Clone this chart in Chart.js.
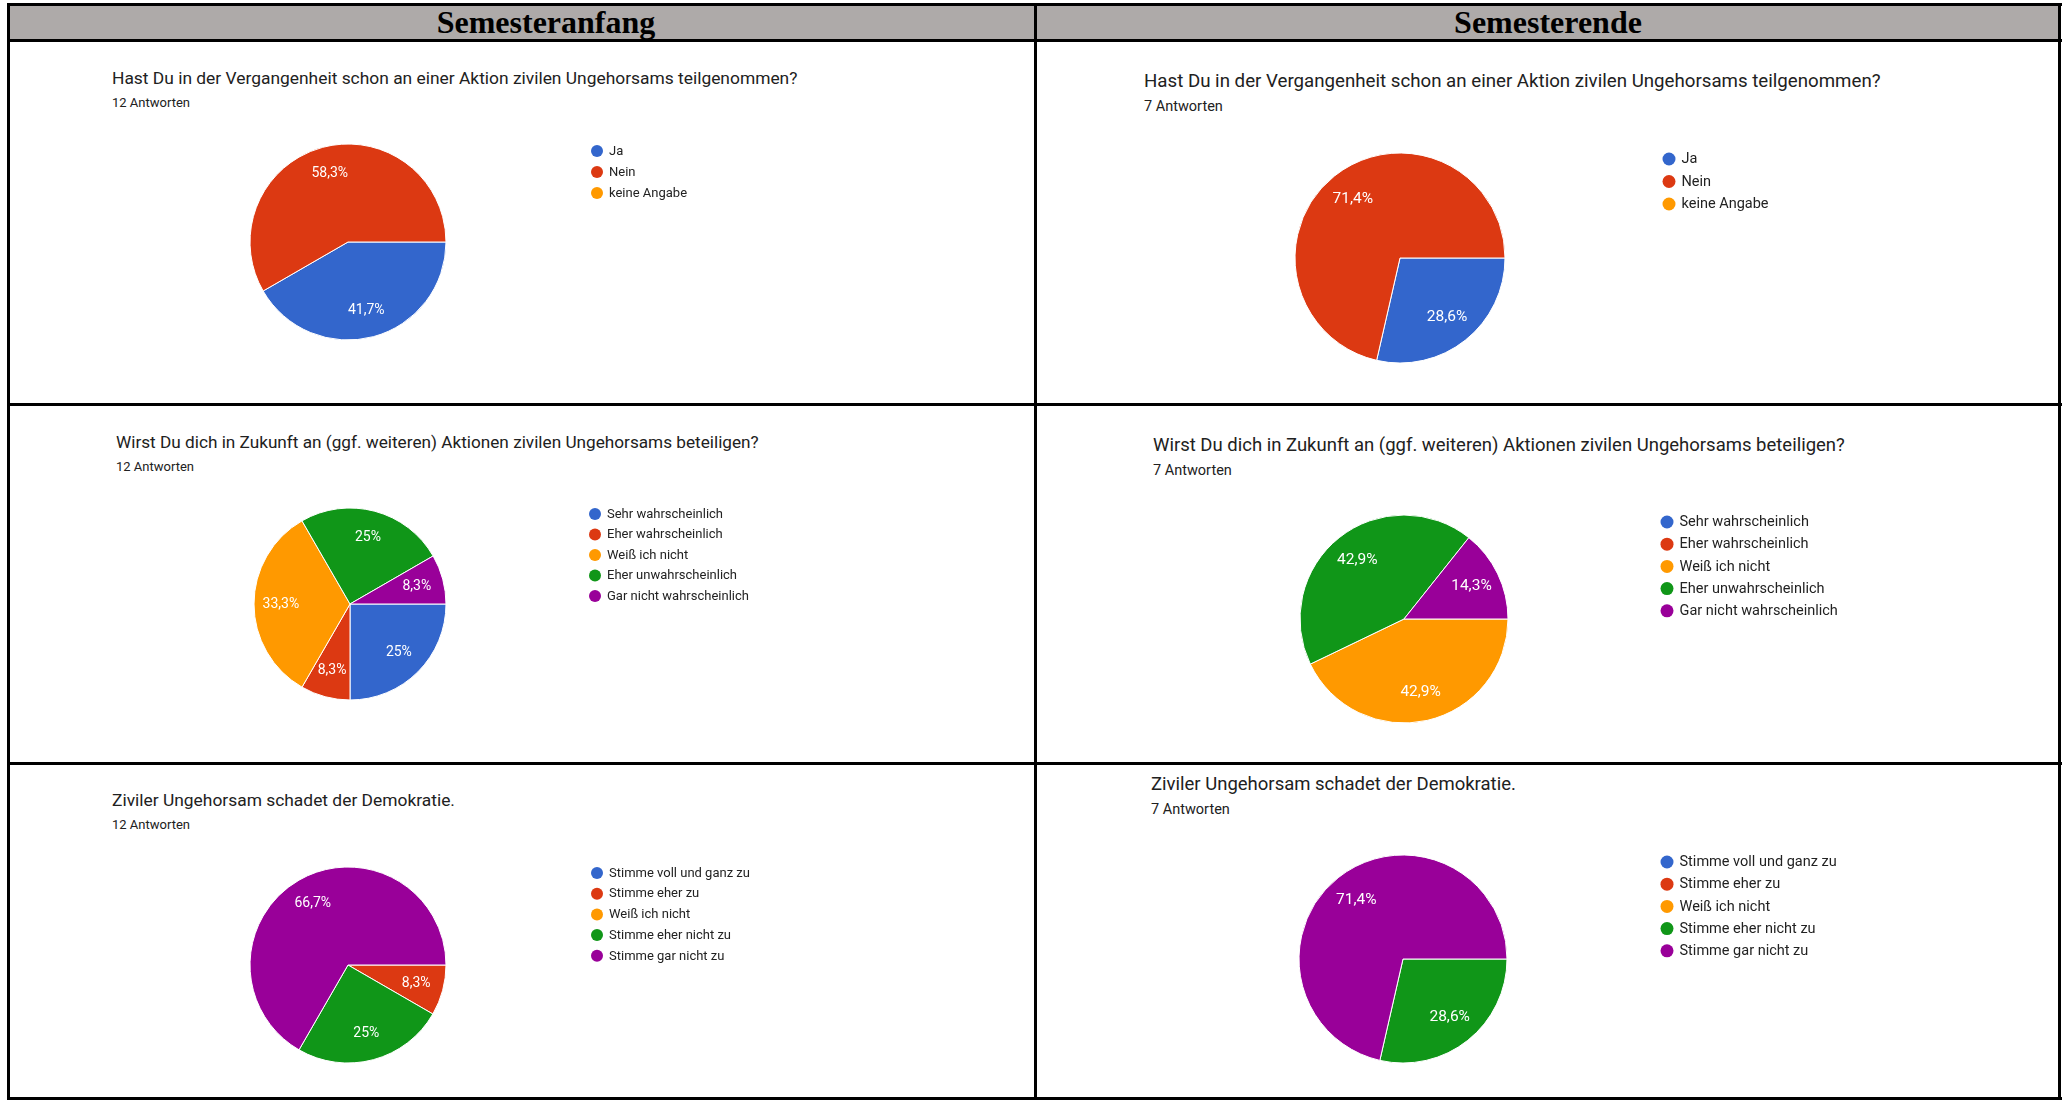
<!DOCTYPE html>
<html>
<head>
<meta charset="utf-8">
<script src="https://cdn.jsdelivr.net/npm/chart.js@4.4.1/dist/chart.umd.min.js"></script>
<style>
  html, body { margin: 0; padding: 0; background: #fff; }
  body { width: 2062px; height: 1101px; position: relative; overflow: hidden; font-family: Roboto, sans-serif; }
  .line { position: absolute; background: #000; }
  .head { position: absolute; background: #aeaaa9; }
  .htxt { position: absolute; font-family: 'Liberation Serif', 'Times New Roman', serif; font-weight: bold; font-size: 32px; line-height: 32px; color: #000; white-space: nowrap; transform: translateX(-50%); }
  .q { position: absolute; color: #212121; white-space: nowrap; line-height: 1; }
  canvas { position: absolute; }
</style>
</head>
<body>
<script>
const COLORS = ['#3366cc', '#dc3912', '#ff9900', '#109618', '#990099'];

const teilnahmeLabels = ['Ja', 'Nein', 'keine Angabe'];
const zukunftLabels = ['Sehr wahrscheinlich', 'Eher wahrscheinlich', 'Weiß ich nicht', 'Eher unwahrscheinlich', 'Gar nicht wahrscheinlich'];
const demokratieLabels = ['Stimme voll und ganz zu', 'Stimme eher zu', 'Weiß ich nicht', 'Stimme eher nicht zu', 'Stimme gar nicht zu'];

// Antworten je Kategorie (Anzahl)
const teilnahmeAnfang = [5, 7, 0];
const teilnahmeEnde = [2, 5, 0];
const zukunftAnfang = [3, 1, 4, 3, 1];
const zukunftEnde = [0, 0, 3, 3, 1];
const demokratieAnfang = [0, 1, 0, 3, 8];
const demokratieEnde = [0, 0, 0, 2, 5];

const columnTitles = ['Semesteranfang', 'Semesterende'];
const questions = [
  'Hast Du in der Vergangenheit schon an einer Aktion zivilen Ungehorsams teilgenommen?',
  'Wirst Du dich in Zukunft an (ggf. weiteren) Aktionen zivilen Ungehorsams beteiligen?',
  'Ziviler Ungehorsam schadet der Demokratie.',
];

// --- table frame ---
function box(cls, x, y, w, h) {
  const d = document.createElement('div');
  d.className = cls;
  Object.assign(d.style, { left: x + 'px', top: y + 'px', width: w + 'px', height: h + 'px' });
  document.body.appendChild(d);
}
box('head', 9, 4, 2050, 36);
[3, 39, 403, 762, 1097].forEach(y => box('line', 7, y, 2055, 3));
[7, 1034, 2058].forEach(x => box('line', x, 3, 3, 1097));

function text(cls, str, x, baseline, size) {
  const d = document.createElement('div');
  d.className = cls;
  d.textContent = str;
  d.style.left = x + 'px';
  d.style.top = (baseline - 0.84 * size) + 'px';
  d.style.fontSize = size + 'px';
  document.body.appendChild(d);
}
text('htxt', columnTitles[0], 546, 33, 32);
text('htxt', columnTitles[1], 1548, 33, 32);

const fmt = v => (Math.round(v * 10) / 10).toString().replace('.', ',') + '%';

// white percentage labels inside the slices
const pieLabels = {
  id: 'pieLabels',
  afterDatasetsDraw(chart, args, opts) {
    const ctx = chart.ctx;
    const data = chart.data.datasets[0].data;
    const total = data.reduce((a, b) => a + b, 0);
    ctx.save();
    ctx.fillStyle = '#fff';
    ctx.font = `${opts.size}px Roboto`;
    ctx.textAlign = 'center';
    ctx.textBaseline = 'middle';
    chart.getDatasetMeta(0).data.forEach((arc, i) => {
      if (!data[i]) return;
      const p = arc.getProps(['x', 'y', 'startAngle', 'endAngle', 'outerRadius'], true);
      const mid = (p.startAngle + p.endAngle) / 2;
      const r = p.outerRadius * 0.72;
      ctx.fillText(fmt(data[i] / total * 100), p.x + Math.cos(mid) * r, p.y + Math.sin(mid) * r);
    });
    ctx.restore();
  },
};

// legend to the right of the pie, Google-Forms style
const sideLegend = {
  id: 'sideLegend',
  afterDraw(chart, args, opts) {
    const ctx = chart.ctx;
    const ds = chart.data.datasets[0];
    ctx.save();
    ctx.font = `${opts.size}px Roboto`;
    ctx.textBaseline = 'middle';
    chart.data.labels.forEach((lab, i) => {
      const y = opts.y + i * opts.gap;
      ctx.fillStyle = ds.backgroundColor[i];
      ctx.beginPath();
      ctx.arc(opts.x, y, opts.dot, 0, Math.PI * 2);
      ctx.fill();
      ctx.fillStyle = '#222';
      ctx.fillText(lab, opts.x + opts.dot + 6, y + 0.5);
    });
    ctx.restore();
  },
};

const cells = [
  { x: 10, y: 42, w: 1024, h: 361, q: 0, n: 12, labels: teilnahmeLabels, data: teilnahmeAnfang,
    tx: 112, tb: 85, ts: 17.4, sb: 107, ss: 13, cx: 348, cy: 242, r: 98, lx: 597, ly: 151, lg: 21, ls: 13, dot: 6, ps: 14 },
  { x: 1037, y: 42, w: 1021, h: 361, q: 0, n: 7, labels: teilnahmeLabels, data: teilnahmeEnde,
    tx: 1144, tb: 88, ts: 18.7, sb: 112, ss: 14.5, cx: 1400, cy: 258, r: 105, lx: 1669, ly: 159, lg: 22.5, ls: 14.5, dot: 6.5, ps: 15.5 },
  { x: 10, y: 406, w: 1024, h: 356, q: 1, n: 12, labels: zukunftLabels, data: zukunftAnfang,
    tx: 116, tb: 448, ts: 17.2, sb: 471, ss: 13, cx: 350, cy: 604, r: 96, lx: 595, ly: 514, lg: 20.5, ls: 13, dot: 6, ps: 14 },
  { x: 1037, y: 406, w: 1021, h: 356, q: 1, n: 7, labels: zukunftLabels, data: zukunftEnde,
    tx: 1153, tb: 452, ts: 18.5, sb: 476, ss: 14.5, cx: 1404, cy: 619, r: 104, lx: 1667, ly: 522, lg: 22.2, ls: 14.5, dot: 6.5, ps: 15.5 },
  { x: 10, y: 765, w: 1024, h: 332, q: 2, n: 12, labels: demokratieLabels, data: demokratieAnfang,
    tx: 112, tb: 807, ts: 17.4, sb: 829, ss: 13, cx: 348, cy: 965, r: 98, lx: 597, ly: 873, lg: 20.7, ls: 13, dot: 6, ps: 14 },
  { x: 1037, y: 765, w: 1021, h: 332, q: 2, n: 7, labels: demokratieLabels, data: demokratieEnde,
    tx: 1151, tb: 791, ts: 18.5, sb: 815, ss: 14.5, cx: 1403, cy: 959, r: 104, lx: 1667, ly: 862, lg: 22.2, ls: 14.5, dot: 6.5, ps: 15.5 },
];

cells.forEach((c, k) => {
  text('q', questions[c.q], c.tx, c.tb, c.ts);
  text('q', c.n + ' Antworten', c.tx, c.sb, c.ss);

  const cv = document.createElement('canvas');
  cv.id = 'pie' + k;
  Object.assign(cv.style, { left: c.x + 'px', top: c.y + 'px', width: c.w + 'px', height: c.h + 'px' });
  document.body.appendChild(cv);

  const px = c.cx - c.x, py = c.cy - c.y;
  new Chart(cv, {
    type: 'pie',
    data: {
      labels: c.labels,
      datasets: [{
        data: c.data,
        backgroundColor: COLORS.slice(0, c.labels.length),
        borderColor: '#fff',
        borderWidth: 1,
        radius: c.r,
        clip: false,
      }],
    },
    options: {
      responsive: false,
      animation: false,
      rotation: 90,
      layout: { padding: { left: px - 10, right: c.w - px - 10, top: py - 10, bottom: c.h - py - 10 } },
      events: [],
      plugins: {
        legend: { display: false },
        tooltip: { enabled: false },
        pieLabels: { size: c.ps },
        sideLegend: { x: c.lx - c.x, y: c.ly - c.y, gap: c.lg, size: c.ls, dot: c.dot },
      },
    },
    plugins: [pieLabels, sideLegend],
  });
});
</script>
</body>
</html>
